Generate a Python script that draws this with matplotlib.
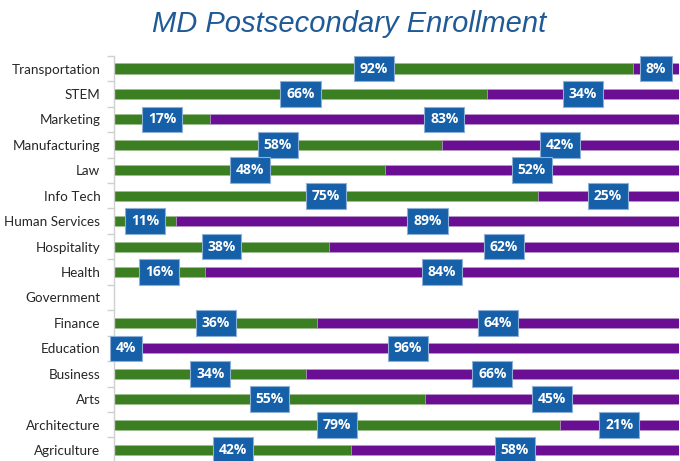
import matplotlib
matplotlib.use("Agg")
import matplotlib.pyplot as plt
import numpy as np
from matplotlib.ticker import FixedLocator, NullFormatter

categories = ["Transportation", "STEM", "Marketing", "Manufacturing", "Law", "Info Tech",
              "Human Services", "Hospitality", "Health", "Government", "Finance", "Education",
              "Business", "Arts", "Architecture", "Agriculture"]
green_vals = [92, 66, 17, 58, 48, 75, 11, 38, 16, 0, 36, 4, 34, 55, 79, 42]
purple_vals = [8, 34, 83, 42, 52, 25, 89, 62, 84, 0, 64, 96, 66, 45, 21, 58]

GREEN = "#3B7F22"
PURPLE = "#6A0E93"
BOX = "#1560A8"

fig = plt.figure(figsize=(6.8, 4.61), dpi=100)
ax = fig.add_axes([0.168, -0.004, 0.830, 0.883])

n = len(categories)
y = np.arange(n)[::-1]
h = 0.40
ax.barh(y, green_vals, height=h, color=GREEN, edgecolor="#9ec08f", linewidth=0.4)
ax.barh(y, purple_vals, left=green_vals, height=h, color=PURPLE, edgecolor="#b9a0c8", linewidth=0.4)

bbox = dict(boxstyle="square,pad=0.42", facecolor=BOX, edgecolor="#8fb0d6", linewidth=0.8)
for yi, g, p in zip(y, green_vals, purple_vals):
    if g > 0:
        ax.text(g / 2, yi, f"{g}%", ha="center", va="center", color="white",
                fontsize=10, fontweight="bold", family="Open Sans", bbox=bbox, clip_on=False)
    if p > 0:
        ax.text(g + p / 2, yi, f"{p}%", ha="center", va="center", color="white",
                fontsize=10, fontweight="bold", family="Open Sans", bbox=bbox, clip_on=False)

ax.set_xlim(0, 100)
ax.set_ylim(-0.5, n - 0.5)
ax.set_yticks(y)
ax.set_yticklabels(categories, family="Lato", fontsize=9.7, color="#262626")
ax.tick_params(axis="y", which="major", length=0, pad=10)
ax.yaxis.set_minor_locator(FixedLocator(np.arange(-0.5, n, 1.0)))
ax.yaxis.set_minor_formatter(NullFormatter())
ax.tick_params(axis="y", which="minor", length=5, color="#d0d0d0", width=1)
ax.set_xticks([])
for s in ["top", "right", "bottom"]:
    ax.spines[s].set_visible(False)
ax.spines["left"].set_color("#d0d0d0")
ax.spines["left"].set_linewidth(1)

fig.text(0.513, 0.948, "MD Postsecondary Enrollment", ha="center", va="center",
         fontsize=21, style="italic", family="Liberation Sans", color="#1F5A96")

fig.savefig("out.png", dpi=100)
